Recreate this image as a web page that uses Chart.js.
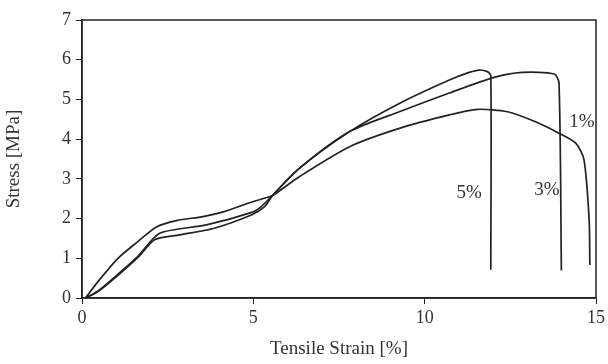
<!DOCTYPE html>
<html>
<head>
<meta charset="utf-8">
<script src="https://cdn.jsdelivr.net/npm/chart.js"></script>
<style>
  html, body { margin: 0; padding: 0; background: #fff; }
  #wrap { width: 608px; height: 364px; }
</style>
</head>
<body>
<div id="wrap"><canvas id="stressChart" width="608" height="364"></canvas></div>
<script>
// strain [%] / stress [MPa]
const strain1 = [0.1, 0.5, 1.05, 1.63, 2.17, 2.76, 3.53, 4.12, 5.0, 5.4, 5.6, 6.35, 7.81, 9.26, 10.72, 11.54, 12.42, 13.2, 13.92, 14.41, 14.65, 14.8, 14.82];
const stress1 = [0, 0.45, 1.0, 1.42, 1.79, 1.95, 2.05, 2.17, 2.43, 2.53, 2.6, 3.06, 3.81, 4.27, 4.61, 4.75, 4.69, 4.45, 4.15, 3.9, 3.48, 1.96, 0.83];

const strain5 = [0.1, 0.47, 1.05, 1.63, 2.27, 3.63, 5.0, 5.23, 5.57, 6.35, 7.81, 9.26, 10.72, 11.3, 11.59, 11.83, 11.93, 11.93];
const stress5 = [0, 0.18, 0.6, 1.05, 1.63, 1.84, 2.17, 2.3, 2.59, 3.27, 4.19, 4.9, 5.49, 5.68, 5.74, 5.7, 5.6, 0.71];

const strain3 = [0.1, 0.47, 1.05, 1.63, 2.13, 2.85, 3.83, 4.94, 5.33, 5.57, 6.35, 7.81, 9.26, 10.72, 12.0, 12.85, 13.78, 13.92, 13.99];
const stress3 = [0, 0.16, 0.57, 1.02, 1.47, 1.59, 1.75, 2.09, 2.3, 2.59, 3.27, 4.19, 4.69, 5.16, 5.55, 5.68, 5.64, 5.41, 0.69];

const curveNames = ['1%', '5%', '3%'];
// where each curve's name is written, in data units
const nameX = [14.59, 11.3, 13.57];
const nameY = [4.43, 2.64, 2.72];

const xTicks = [0, 5, 10, 15];
const yTicks = [0, 1, 2, 3, 4, 5, 6, 7];

const toPoints = (xs, ys) => xs.map((x, i) => ({ x, y: ys[i] }));

const family = '"Liberation Serif", "Times New Roman", serif';
const tickFont = { family, size: 18 };
const titleFont = { family, size: 19 };
const ink = '#222';

const curve = (name, xs, ys) => ({
  label: name,
  data: toPoints(xs, ys),
  borderColor: ink,
  borderWidth: 1.7,
  pointRadius: 0,
  tension: 0.25,
  fill: false,
});

// box around plot area + curve names
const framePlugin = {
  id: 'frame',
  afterDatasetsDraw(chart) {
    const { ctx, chartArea: a, scales } = chart;
    ctx.save();
    ctx.strokeStyle = ink;
    ctx.lineWidth = 1.5;
    ctx.strokeRect(a.left, a.top, a.right - a.left, a.bottom - a.top);
    ctx.fillStyle = '#333';
    ctx.font = `19px ${family}`;
    ctx.textAlign = 'center';
    ctx.textBaseline = 'middle';
    curveNames.forEach((n, i) => {
      ctx.fillText(n, scales.x.getPixelForValue(nameX[i]), scales.y.getPixelForValue(nameY[i]));
    });
    ctx.restore();
  }
};

new Chart(document.getElementById('stressChart'), {
  type: 'line',
  data: {
    datasets: [
      curve(curveNames[0], strain1, stress1),
      curve(curveNames[1], strain5, stress5),
      curve(curveNames[2], strain3, stress3),
    ]
  },
  options: {
    responsive: false,
    animation: false,
    layout: { padding: { top: 20, right: 11, left: 0, bottom: 0 } },
    plugins: { legend: { display: false }, tooltip: { enabled: false } },
    scales: {
      x: {
        type: 'linear',
        min: 0, max: 15,
        afterBuildTicks: s => { s.ticks = xTicks.map(v => ({ value: v })); },
        afterFit: s => { s.height = 66; },
        grid: { drawOnChartArea: false, drawTicks: true, tickLength: 6, color: ink },
        border: { color: ink, width: 1.5 },
        ticks: { color: '#333', font: tickFont, padding: 3, maxRotation: 0 },
        title: { display: true, text: 'Tensile Strain [%]', color: '#333', font: titleFont, padding: { top: 5 } }
      },
      y: {
        type: 'linear',
        min: 0, max: 7,
        afterBuildTicks: s => { s.ticks = yTicks.map(v => ({ value: v })); },
        afterFit: s => { s.width = 82; },
        grid: { drawOnChartArea: false, drawTicks: true, tickLength: 6, color: ink },
        border: { color: ink, width: 1.5 },
        ticks: { color: '#333', font: tickFont, padding: 5 },
        title: { display: true, text: 'Stress [MPa]', color: '#333', font: titleFont, padding: { top: 3, bottom: 6 } }
      }
    }
  },
  plugins: [framePlugin]
});
</script>
</body>
</html>
